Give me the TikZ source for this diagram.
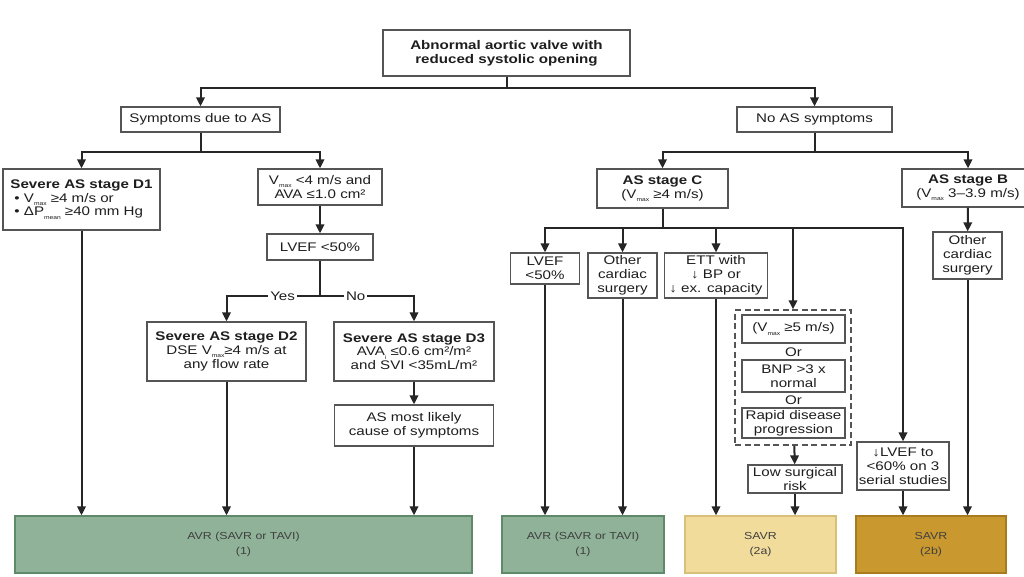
\documentclass[tikz,border=0pt]{standalone}
\usepackage{fontspec}
\setmainfont{Liberation Sans}[FakeStretch=1.21]
\usepackage{graphicx}
\usetikzlibrary{arrows.meta}
\definecolor{boxline}{HTML}{555555}
\definecolor{lin}{HTML}{262626}
\definecolor{txt}{HTML}{1E1E1E}
\definecolor{greenfill}{HTML}{8FB298}
\definecolor{greenline}{HTML}{5E8A6A}
\definecolor{yellowfill}{HTML}{F1DC9C}
\definecolor{yellowline}{HTML}{D8C07A}
\definecolor{goldfill}{HTML}{C9982F}
\definecolor{goldline}{HTML}{A87B1E}
\newcommand\fsmain{\fontsize{12.5}{13.8}\selectfont}
\newcommand\fsbot{\fontsize{10.2}{15}\selectfont}
\newcommand\lowsub[1]{\raisebox{-0.5ex}{\fontsize{5.5}{5.5}\selectfont #1}}
\tikzset{
  box/.style={draw=boxline, line width=1.3pt, fill=white, align=center, inner sep=1pt, font=\fsmain, text=txt},
  sz/.style 2 args={minimum width=#1pt, minimum height=#2pt},
  conn/.style={draw=lin, line width=2pt},
  arr/.style={conn, -{Triangle[length=9pt,width=8.5pt]}},
  lab/.style={fill=white, inner sep=2pt, font=\fsmain, text=txt},
  dbox/.style={draw=boxline, line width=1.5pt, dash pattern=on 6pt off 3.5pt},
  outbox/.style={line width=1.3pt, align=center, font=\fsbot, text=txt!85, inner sep=1pt}
}
\begin{document}
\begin{tikzpicture}[x=1pt,y=-1pt]
\useasboundingbox (0,0) rectangle (1024,576);
\clip (0,0) rectangle (1024,576);
% ---- nodes
\node[box, sz={247}{46}] (top) at (506.5,53) {\textbf{Abnormal aortic valve with}\\\textbf{reduced systolic opening}};
\node[box, sz={159}{25}] (sym) at (200.5,119.5) {Symptoms due to AS};
\node[box, sz={155}{25}] (nosym) at (814.5,119.5) {No AS symptoms};
\node[box, sz={157}{61}, align=left] (d1) at (81.5,199.5) {\textbf{Severe AS stage D1}\\\hspace{4pt}• V\lowsub{max} ≥4 m/s or\\\hspace{4pt}• ΔP\lowsub{mean} ≥40 mm Hg};
\node[box, sz={124}{36}] (vmax) at (320,187) {V\lowsub{max} <4 m/s and\\AVA ≤1.0 cm²};
\node[box, sz={106}{26}] (lvef) at (320,247) {LVEF <50\%};
\node[box, sz={159}{59}] (d2) at (226.5,351.5) {\textbf{Severe AS stage D2}\\DSE V\lowsub{max}≥4 m/s at\\any flow rate};
\node[box, sz={160}{59}] (d3) at (414,351.5) {\textbf{Severe AS stage D3}\\AVA\lowsub{i} ≤0.6 cm²/m²\\and SVI <35mL/m²};
\node[box, sz={159}{41}] (most) at (414,425.5) {AS most likely\\cause of symptoms};
\node[box, sz={131}{39}] (asc) at (662.5,188.5) {\textbf{AS stage C}\\(V\lowsub{max} ≥4 m/s)};
\node[box, sz={132}{38}] (asb) at (968,188) {\textbf{AS stage B}\\(V\lowsub{max} 3–3.9 m/s)};
\node[box, sz={69}{31}] (lvefc) at (545,268.5) {LVEF\\<50\%};
\node[box, sz={69}{45}] (othc) at (622.5,275.5) {Other\\cardiac\\surgery};
\node[box, sz={103}{45}] (ett) at (716,275.5) {ETT with\\↓ BP or\\↓ ex. capacity};
\node[box, sz={69}{47}] (othb) at (967.5,255.5) {Other\\cardiac\\surgery};
\node[dbox, sz={116}{135}] (dash) at (793,377.5) {};
\node[box, sz={103}{28}] (vm5) at (793.5,329) {(V\lowsub{max} ≥5 m/s)};
\node[lab, fill=none] (or1) at (793.5,352) {Or};
\node[box, sz={103}{32}] (bnp) at (793.5,376) {BNP >3 x\\normal};
\node[lab, fill=none] (or2) at (793.5,400) {Or};
\node[box, sz={103}{30}] (rapid) at (793.5,423) {Rapid disease\\progression};
\node[box, sz={94}{28}] (low) at (795,479) {Low surgical\\risk};
\node[box, sz={92}{48}] (lvefto) at (903,466) {↓LVEF to\\<60\% on 3\\serial studies};
\node[outbox, draw=greenline, fill=greenfill, sz={457}{57}] (g1) at (243.5,544.5) {AVR (SAVR or TAVI)\\(1)};
\node[outbox, draw=greenline, fill=greenfill, sz={162}{57}] (g2) at (583,544.5) {AVR (SAVR or TAVI)\\(1)};
\node[outbox, draw=yellowline, fill=yellowfill, sz={151}{57}] (y1) at (760.5,544.5) {SAVR\\(2a)};
\node[outbox, draw=goldline, fill=goldfill, sz={150}{57}] (gd) at (931,544.5) {SAVR\\(2b)};
% ---- junctions
\coordinate (j1) at (506.5,88);
\coordinate (j2) at (200.5,152);
\coordinate (j3) at (814.5,152);
\coordinate (j4) at (320,296);
\coordinate (j5) at (662.5,228);
% ---- connectors
\draw[conn] (top) -- (j1);
\draw[arr] (j1) -| (sym);
\draw[arr] (j1) -| (nosym);
\draw[conn] (sym) -- (j2);
\draw[arr] (j2) -| (d1);
\draw[arr] (j2) -| (vmax);
\draw[arr] (vmax) -- (lvef);
\draw[conn] (lvef) -- (j4);
\draw[arr] (j4) -| node[pos=0.2, lab] {Yes} (d2);
\draw[arr] (j4) -| node[pos=0.19, lab] {No} (d3);
\draw[arr] (d3) -- (most);
\draw[arr] (d1.south) -- (d1.south |- g1.north);
\draw[arr] (d2.south) -- (d2.south |- g1.north);
\draw[arr] (most.south) -- (most.south |- g1.north);
\draw[conn] (nosym) -- (j3);
\draw[arr] (j3) -| (asc);
\draw[arr] (j3) -| (asb);
\draw[conn] (asc) -- (j5);
\draw[arr] (j5) -| (lvefc);
\draw[arr] (j5) -| (othc);
\draw[arr] (j5) -| (ett);
\draw[arr] (j5) -| (dash);
\draw[arr] (j5) -| (lvefto);
\draw[arr] (asb) -- (othb);
\draw[arr] (dash) -- (low);
\draw[arr] (lvefc.south) -- (lvefc.south |- g2.north);
\draw[arr] (othc.south) -- (othc.south |- g2.north);
\draw[arr] (ett.south) -- (ett.south |- y1.north);
\draw[arr] (low.south) -- (low.south |- y1.north);
\draw[arr] (lvefto.south) -- (lvefto.south |- gd.north);
\draw[arr] (othb.south) -- (othb.south |- gd.north);
\end{tikzpicture}
\end{document}
